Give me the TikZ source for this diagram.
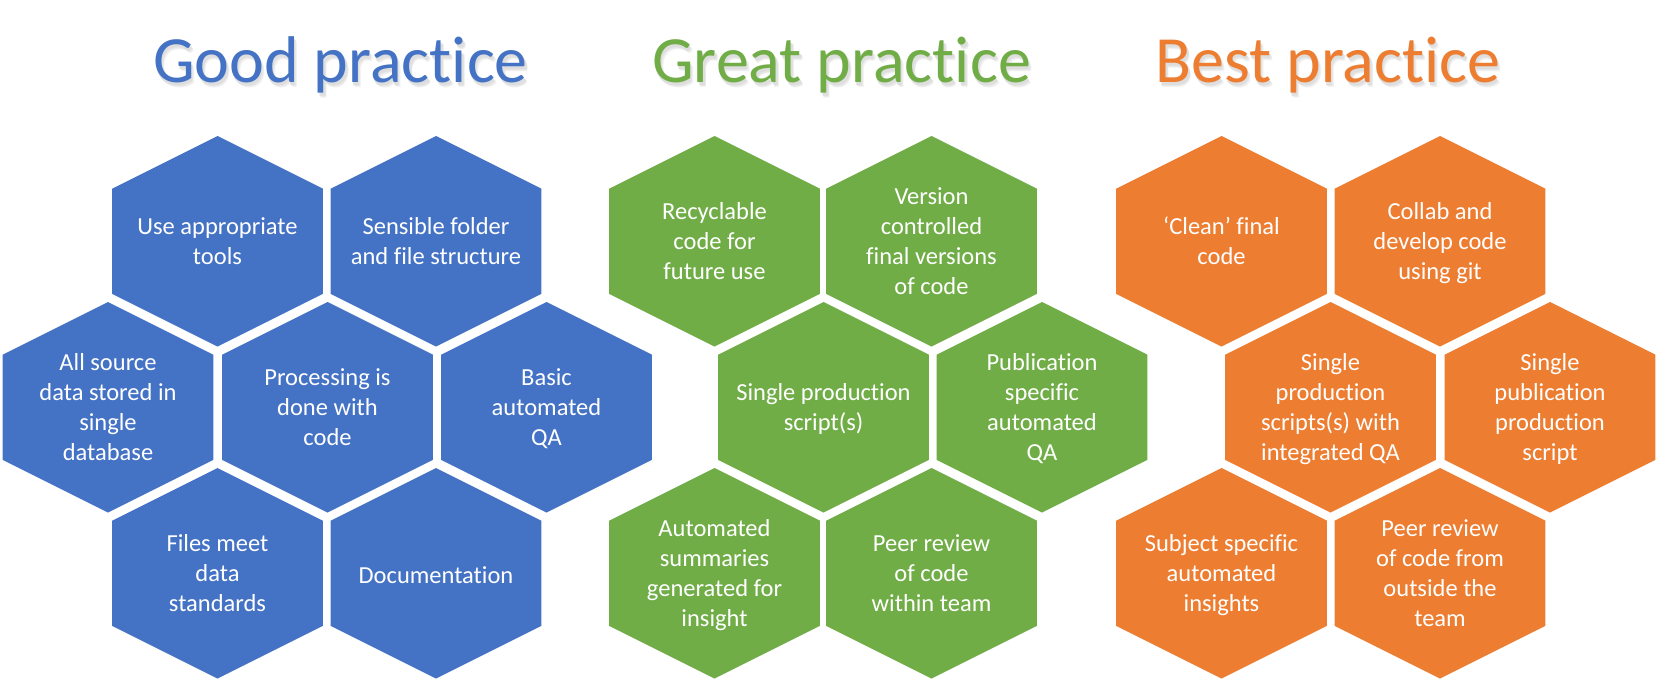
\documentclass[tikz,border=0pt]{standalone}
\usepackage{fontspec}
\setmainfont{Carlito}[RawFeature={-liga,-calt,-clig,-dlig}]
\definecolor{goodblue}{HTML}{4472C4}
\definecolor{greatgreen}{HTML}{70AD47}
\definecolor{bestorange}{HTML}{ED7D31}

% half size of a hexagon cell (it fits in a square)
\def\hexr{105.3}

% \hexcell{name}{x}{y}{colour}{label}
\newcommand{\hexcell}[5]{%
  \fill[#4] (#2,#3) ++(0,-\hexr) -- ++(\hexr,0.5*\hexr) -- ++(0,\hexr)
    -- ++(-\hexr,0.5*\hexr) -- ++(-\hexr,-0.5*\hexr) -- ++(0,-\hexr) -- cycle;
  \node[celltext] (#1) at (#2,#3+4) {#5};%
}

% one shadow layer: \shadowlayer{dx}{dy}{gray}{text}
\newcommand{\shadowlayer}[4]{%
  \makebox[0pt][l]{\hspace{#1pt}\raisebox{-#2pt}{\textcolor{black!#3}{#4}}}}

% title text with a soft drop shadow, all in one node
\newcommand{\practicetitle}[4]{%
  \node[titletext] (#1) at (#2,#3) {%
    \shadowlayer{3}{4.5}{5}{#4}\shadowlayer{2.2}{3.3}{9}{#4}%
    \shadowlayer{1.4}{2.2}{13}{#4}\textcolor{#1}{#4}};%
}

\begin{document}
\begin{tikzpicture}[x=1pt,y=-1pt,
  celltext/.style={text=white,align=center,inner sep=0pt,
    font=\fontsize{24.5}{30}\selectfont,
    execute at begin node={\strut},execute at end node={\strut}},
  titletext/.style={anchor=base,inner sep=0pt,font=\fontsize{66}{70}\selectfont}]
\useasboundingbox[fill=white] (0,0) rectangle (1657,682);

% column titles
\practicetitle{goodblue}{340.5}{83}{Good pract\kern0pt ice}
\practicetitle{greatgreen}{841.5}{83}{Great pract\kern0pt ice}
\practicetitle{bestorange}{1328}{83}{Best pract\kern0pt ice}

% good practice
\hexcell{g1}{217.5}{241.3}{goodblue}{Use appropriate\\tools}
\hexcell{g2}{436}{241.3}{goodblue}{Sensible folder\\and file structure}
\hexcell{g3}{108}{407.3}{goodblue}{All source\\data stored in\\single\\database}
\hexcell{g4}{327.5}{407.3}{goodblue}{Processing is\\done with\\code}
\hexcell{g5}{546.5}{407.3}{goodblue}{Basic\\automated\\QA}
\hexcell{g6}{217.5}{573.3}{goodblue}{Files meet\\data\\standards}
\hexcell{g7}{436}{573.3}{goodblue}{Documentation}

% great practice
\hexcell{m1}{714.5}{241.3}{greatgreen}{Recyclable\\code for\\future use}
\hexcell{m2}{931.5}{241.3}{greatgreen}{Version\\controlled\\final versions\\of code}
\hexcell{m3}{823.5}{407.3}{greatgreen}{Single production\\script(s)}
\hexcell{m4}{1042}{407.3}{greatgreen}{Publication\\specific\\automated\\QA}
\hexcell{m5}{714.5}{573.3}{greatgreen}{Automated\\summaries\\generated for\\insight}
\hexcell{m6}{931.5}{573.3}{greatgreen}{Peer review\\of code\\within team}

% best practice
\hexcell{b1}{1221.5}{241.3}{bestorange}{‘Clean’ final\\code}
\hexcell{b2}{1440}{241.3}{bestorange}{Collab and\\develop code\\using git}
\hexcell{b3}{1330.5}{407.3}{bestorange}{Single\\production\\scripts(s) with\\integrated QA}
\hexcell{b4}{1550}{407.3}{bestorange}{Single\\publication\\production\\script}
\hexcell{b5}{1221.5}{573.3}{bestorange}{Subject specific\\automated\\insights}
\hexcell{b6}{1440}{573.3}{bestorange}{Peer review\\of code from\\outside the\\team}
\end{tikzpicture}
\end{document}
